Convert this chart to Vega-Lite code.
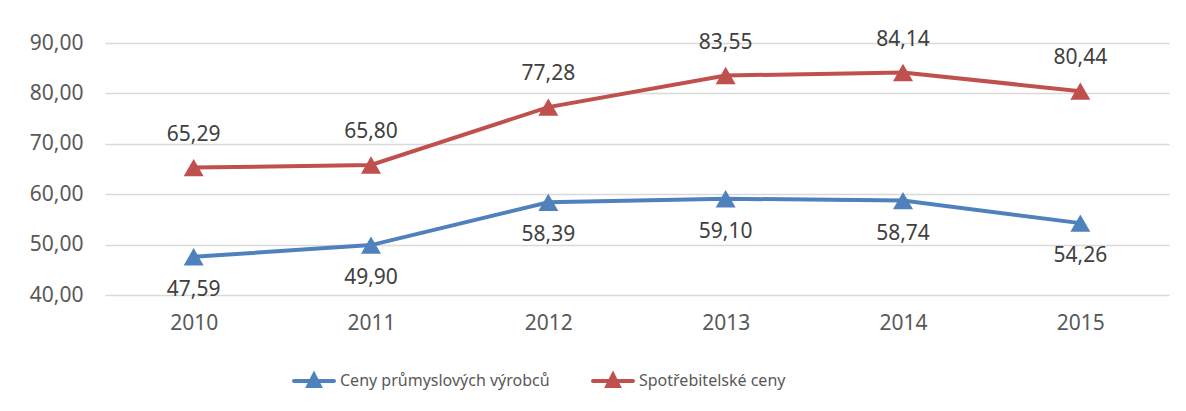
{
  "$schema": "https://vega.github.io/schema/vega-lite/v6.json",
  "width": 1064,
  "height": 252,
  "autosize": "none",
  "padding": {"left": 105, "top": 43, "right": 17, "bottom": 116},
  "background": "white",
  "config": {
    "locale": {"number": {"decimal": ",", "thousands": " ", "grouping": [3], "currency": ["", " Kč"]}},
    "view": {"stroke": null},
    "font": "Noto Sans"
  },
  "data": {"values": [
    {"rok": "2010", "serie": "Ceny průmyslových výrobců", "hodnota": 47.59},
    {"rok": "2011", "serie": "Ceny průmyslových výrobců", "hodnota": 49.90},
    {"rok": "2012", "serie": "Ceny průmyslových výrobců", "hodnota": 58.39},
    {"rok": "2013", "serie": "Ceny průmyslových výrobců", "hodnota": 59.10},
    {"rok": "2014", "serie": "Ceny průmyslových výrobců", "hodnota": 58.74},
    {"rok": "2015", "serie": "Ceny průmyslových výrobců", "hodnota": 54.26},
    {"rok": "2010", "serie": "Spotřebitelské ceny", "hodnota": 65.29},
    {"rok": "2011", "serie": "Spotřebitelské ceny", "hodnota": 65.80},
    {"rok": "2012", "serie": "Spotřebitelské ceny", "hodnota": 77.28},
    {"rok": "2013", "serie": "Spotřebitelské ceny", "hodnota": 83.55},
    {"rok": "2014", "serie": "Spotřebitelské ceny", "hodnota": 84.14},
    {"rok": "2015", "serie": "Spotřebitelské ceny", "hodnota": 80.44}
  ]},
  "encoding": {
    "x": {"field": "rok", "type": "ordinal", "scale": {"type": "point", "padding": 0.5},
      "axis": {"title": null, "labelAngle": 0, "domain": false, "ticks": false, "grid": false,
        "labelFontSize": 21, "labelColor": "#595959", "labelPadding": 17}},
    "y": {"field": "hodnota", "type": "quantitative", "scale": {"domain": [40, 90], "nice": false, "zero": false},
      "axis": {"title": null, "values": [40, 50, 60, 70, 80, 90], "format": ".2f", "domain": false, "ticks": false,
        "gridColor": "#D9D9D9", "gridWidth": 1.5, "labelFontSize": 21, "labelColor": "#595959", "labelPadding": 22}},
    "color": {"field": "serie", "type": "nominal",
      "scale": {"domain": ["Ceny průmyslových výrobců", "Spotřebitelské ceny"], "range": ["#4F81BD", "#C0504D"]},
      "legend": {"title": null, "orient": "none", "direction": "horizontal", "legendX": 187, "legendY": 316,
          "symbolType": "M-1,0H1M-0.28,0.25L0,-0.3L0.28,0.25Z", "symbolSize": 1600, "symbolStrokeWidth": 4,
          "labelFontSize": 16, "labelColor": "#595959", "labelOffset": 4, "columnPadding": 35, "labelLimit": 500,
          "encode": {"symbols": {"update": {"stroke": {"scale": "color", "field": "value"}, "fill": {"scale": "color", "field": "value"}, "strokeCap": {"value": "round"}, "opacity": {"value": 1}}}}}}
  },
  "layer": [
    {"mark": {"type": "line", "strokeWidth": 4}},
    {"mark": {"type": "point", "shape": "triangle-up", "filled": true, "size": 400, "opacity": 1}},
    {"transform": [{"filter": "datum.serie == 'Spotřebitelské ceny'"}],
      "mark": {"type": "text", "dy": -33, "fontSize": 21, "color": "#404040"},
      "encoding": {"text": {"field": "hodnota", "type": "quantitative", "format": ".2f"}, "color": {"value": "#404040"}}},
    {"transform": [{"filter": "datum.serie == 'Ceny průmyslových výrobců'"}],
      "mark": {"type": "text", "dy": 33, "fontSize": 21, "color": "#404040"},
      "encoding": {"text": {"field": "hodnota", "type": "quantitative", "format": ".2f"}, "color": {"value": "#404040"}}}
  ]
}
